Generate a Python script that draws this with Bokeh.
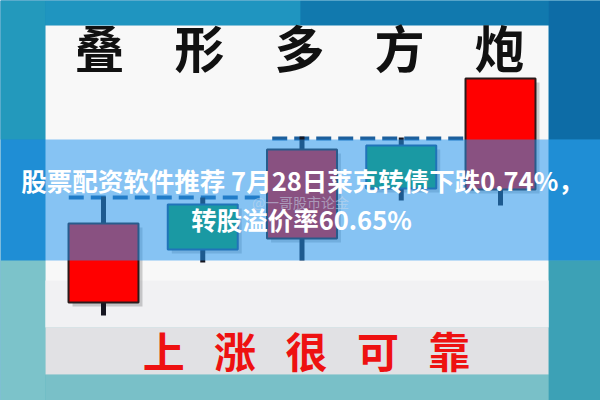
from bokeh.plotting import figure
from bokeh.models import Range1d
from bokeh.core.properties import value
from bokeh.embed import file_html
from bokeh.resources import INLINE

# ---- data (candles: day index, open, high, low, close) ----
days = [1, 2, 3, 4, 5]
opens = [98, 196, 162, 255, 211]
closes = [177, 151, 251, 212, 322]
highs = [204, 203, 264, 263, 322]
lows = [85, 138, 140, 200, 195]
# support / resistance dashed levels: (level, start day, end day)
level_values = [203, 262]
level_starts = [0.65, 2.7]
level_ends = [2.6, 4.9]

title_top = "叠\u3000形\u3000多\u3000方\u3000炮"
title_bottom = "上\u2002\u2009涨\u2002\u2009很\u2002\u2009可\u2002\u2009靠"
headline_1 = "股票配资软件推荐 7月28日莱克转债下跌0.74%，"
headline_2 = "转股溢价率60.65%"
watermark = "@一哥股市论金"

FONT = value("Noto Sans CJK SC")

p = figure(width=600, height=400, output_backend="svg", toolbar_location=None,
           x_range=Range1d(1 - 103 / 99.25, 1 + 497 / 99.25),
           y_range=Range1d(0, 400), min_border=0)
p.axis.visible = False
p.grid.visible = False
p.outline_line_color = None
p.background_fill_color = "#1a86b8"
p.border_fill_color = "#1a86b8"
p.extra_x_ranges = {"px": Range1d(0, 600)}
p.extra_y_ranges = {"px": Range1d(400, 0)}
PX = dict(x_range_name="px", y_range_name="px")

# background (sky / sea)
bg = [
    (0, 600, 0, 139, "#1786b8"),
    (0, 45, 0, 139, "#2399bc"),
    (45, 300, 0, 25, "#1f95c0"),
    (300, 548, 0, 25, "#1179ae"),
    (548, 600, 0, 139, "#0d6ca6"),
    (0, 600, 260, 400, "#5fb4c0"),
    (0, 45, 260, 400, "#7cc3ca"),
    (548, 600, 260, 400, "#3ca1b6"),
    (45, 548, 374, 400, "#79c0c8"),
]
p.quad(left=[b[0] for b in bg], right=[b[1] for b in bg],
       top=[b[2] for b in bg], bottom=[b[3] for b in bg],
       fill_color=[b[4] for b in bg], line_color=None, **PX)

# white panel and grey bottom strip
p.quad(left=[45], right=[548], top=[25], bottom=[327], fill_color="#f8f8f8", line_color=None, **PX)
p.quad(left=[45], right=[548], top=[280], bottom=[327], fill_color="#f1f1f3", line_color=None, **PX)
p.quad(left=[45], right=[548], top=[327], bottom=[374], fill_color="#e1e1e4", line_color=None, **PX)

# dashed levels
p.segment(x0=level_starts, x1=level_ends, y0=level_values, y1=level_values,
          line_color="#1d5f9c", line_width=4, line_dash="15 7")

# candles
up = [c >= o for o, c in zip(opens, closes)]
body_col = ["#ff0000" if u else "#0f9e4a" for u in up]
edge_col = ["#2a1a1a" if u else "#1b4a7a" for u in up]
tops = [max(o, c) for o, c in zip(opens, closes)]
bots = [min(o, c) for o, c in zip(opens, closes)]
w = 0.705
sh = 4 / 99.25
p.quad(left=[d - w / 2 + sh for d in days], right=[d + w / 2 + sh for d in days],
       top=[t - 4 for t in tops], bottom=[b - 4 for b in bots],
       fill_color="#000000", fill_alpha=0.18, line_color=None)
p.segment(x0=days, x1=days, y0=highs, y1=lows, line_color="#151520", line_width=5)
p.quad(left=[d - w / 2 for d in days], right=[d + w / 2 for d in days],
       top=tops, bottom=bots, fill_color=body_col, line_color=edge_col, line_width=2)

# titles
p.text(x=[299], y=[45], text=[title_top], text_font=FONT, text_font_style="bold",
       text_font_size="50px", text_color="#111111", text_align="center",
       text_baseline="middle", **PX)
p.text(x=[306], y=[349], text=[title_bottom], text_font=FONT, text_font_style="bold",
       text_font_size="42px", text_color="#ee1111", text_align="center",
       text_baseline="middle", **PX)

# translucent band
p.quad(left=[0], right=[600], top=[139], bottom=[260], fill_color="#2595ee",
       fill_alpha=0.54, line_color=None, **PX)

# watermark
p.text(x=[300], y=[201], text=[watermark], text_font=FONT, text_font_size="14px",
       text_color="#c8d8ea", text_alpha=0.55, text_align="center",
       text_baseline="middle", **PX)

# headline
p.text(x=[302], y=[179], text=[headline_1], text_font=FONT, text_font_style="bold",
       text_font_size="25.5px", text_color="#ffffff", text_align="center",
       text_baseline="middle", **PX)
p.text(x=[301], y=[218], text=[headline_2], text_font=FONT, text_font_style="bold",
       text_font_size="25.5px", text_color="#ffffff", text_align="center",
       text_baseline="middle", **PX)

open("out.html", "w").write(file_html(p, INLINE))
